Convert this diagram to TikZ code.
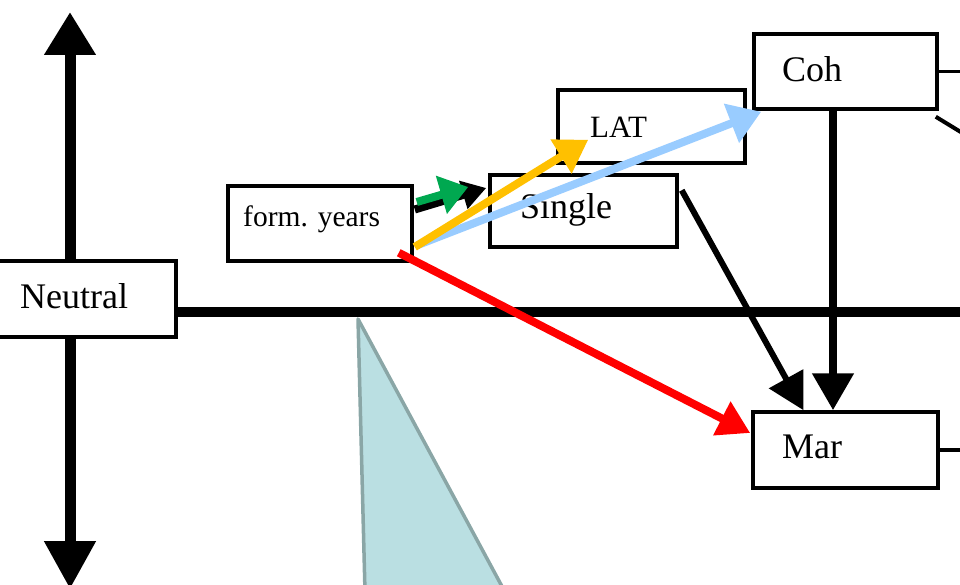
\documentclass[tikz,border=0pt]{standalone}
\usepackage{fontspec}
\setmainfont{Liberation Serif}
\usetikzlibrary{arrows.meta,backgrounds}

\definecolor{wedgefill}{HTML}{BADFE2}
\definecolor{wedgeline}{HTML}{8AA6A6}
\definecolor{arrgreen}{HTML}{00A850}
\definecolor{arryellow}{HTML}{FFC000}
\definecolor{arrblue}{HTML}{99CCFF}
\definecolor{arrred}{HTML}{FF0000}

\tikzset{
  statebox/.style={draw=black, fill=white, line width=3.5pt, rectangle, inner sep=0pt},
  boxtext/.style={anchor=base west, inner sep=0pt, text=black},
  axisline/.style={line width=11pt, draw=black},
  rimline/.style={line width=3.5pt, draw=black},
  flow/.style={line width=8pt},
}

\begin{document}
\begin{tikzpicture}[x=1pt, y=-1pt]
  \useasboundingbox (0,0) rectangle (960,585);

  % anchor points at the edges of the sheet
  \coordinate (axtop) at (70,12);
  \coordinate (axbot) at (70,589);
  \coordinate (hrend) at (962,312);
  \coordinate (rim) at (962,0);
  \coordinate (cohtail) at (964,134);

  % state boxes
  \node[statebox, minimum width=181pt, minimum height=76pt] (neutral) at (85.5,299) {};
  \node[statebox, minimum width=184pt, minimum height=75pt] (years) at (320,223.5) {};
  \node[statebox, minimum width=187pt, minimum height=72pt] (single) at (583.5,211) {};
  \node[statebox, minimum width=187pt, minimum height=73pt] (lat) at (651.5,126.5) {};
  \node[statebox, minimum width=183pt, minimum height=75pt] (coh) at (845.5,71.5) {};
  \node[statebox, minimum width=185pt, minimum height=76pt] (mar) at (845.5,450) {};

  % box labels
  \node[boxtext, font=\fontsize{36}{41}\selectfont] (neutraltxt) at (20,308) {Neutral};
  \node[boxtext, font=\fontsize{29.5}{34}\selectfont] (yearstxt) at (243,227) {form. years};
  \node[boxtext, font=\fontsize{36}{41}\selectfont] (singletxt) at (520,219) {Single};
  \node[boxtext, font=\fontsize{31}{36}\selectfont] (lattxt) at (590,138) {LAT};
  \node[boxtext, font=\fontsize{36}{41}\selectfont] (cohtxt) at (782,82) {Coh};
  \node[boxtext, font=\fontsize{36}{41}\selectfont] (martxt) at (782,458) {Mar};

  \begin{scope}[on background layer]
    % wedge hanging below the time line
    \filldraw[fill=wedgefill, draw=wedgeline, line width=3.5pt, line join=round]
      (358,319) -- (365,592) -- (505,592) -- cycle;
    % vertical axis through Neutral
    \draw[axisline, {Triangle[length=43pt,width=49pt]}-{Triangle[length=48pt,width=49pt]}]
      (axtop) -- (axbot);
    % horizontal time line
    \draw[line width=10pt] (neutral.east |- hrend) -- (hrend);
  \end{scope}

  % lines leaving the right edge
  \draw[rimline] (coh.east) -- (coh.east -| rim);
  \draw[rimline] (mar.east) -- (mar.east -| rim);
  \draw[line width=4pt] ([shift={(-3,6)}]coh.south east) -- (cohtail);

  % black transitions into Mar
  \draw[line width=8pt, -{Triangle[length=37pt,width=40pt]}]
    ([xshift=-12.5pt]coh.south) -- ([xshift=-12.5pt]mar.north);
  \draw[line width=6pt, -{Triangle[length=36pt,width=38pt]}]
    ([shift={(3,17)}]single.north east) -- ([xshift=-42pt]mar.north);

  % transitions leaving the formative years
  \draw[flow, black, -{Triangle[length=24pt,width=28pt]}]
    ([shift={(1,-14)}]years.east) -- ([shift={(-2,-23)}]single.west);
  \draw[flow, arrblue, -{Triangle[length=32pt,width=40pt]}]
    ([shift={(4,21.5)}]years.east) -- ([shift={(9,1)}]coh.south west);
  \draw[flow, arryellow, -{Triangle[length=32pt,width=38pt]}]
    ([shift={(1,23.5)}]years.east) -- ([shift={(32,-25)}]lat.south west);
  \draw[flow, arrgreen, -{Triangle[length=28pt,width=38pt]}]
    ([shift={(3,-21.5)}]years.east) -- ([shift={(-20,-24)}]single.west);
  \draw[flow, arrred, -{Triangle[length=32pt,width=36pt]}]
    ([shift={(-15,-10)}]years.south east) -- ([shift={(-1,-17)}]mar.west);
\end{tikzpicture}
\end{document}
